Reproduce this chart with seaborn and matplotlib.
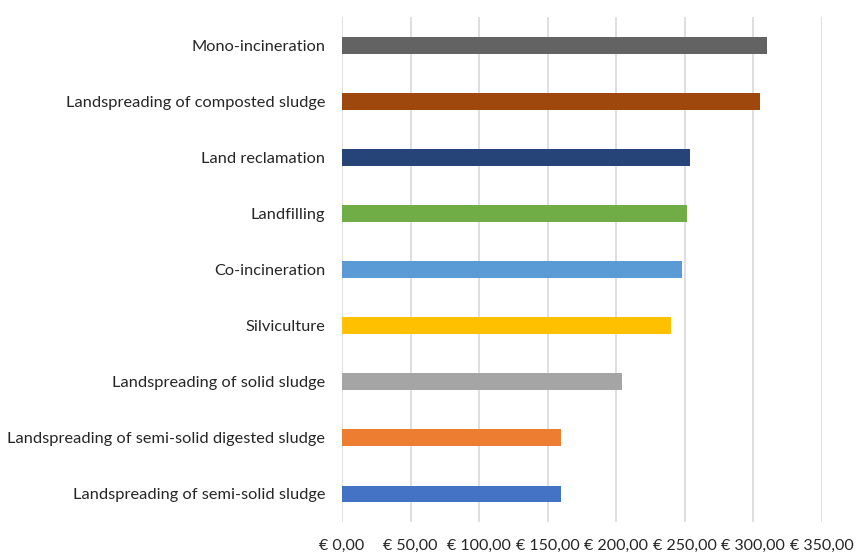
import matplotlib
matplotlib.use("Agg")
import matplotlib.pyplot as plt
import seaborn as sns
import pandas as pd
from matplotlib.ticker import FuncFormatter

categories = ['Mono-incineration', 'Landspreading of composted sludge', 'Land reclamation',
              'Landfilling', 'Co-incineration', 'Silviculture', 'Landspreading of solid sludge',
              'Landspreading of semi-solid digested sludge', 'Landspreading of semi-solid sludge']
costs = [310, 305, 254, 252, 248, 240, 204, 160, 160]
colors = ['#636363', '#9E480E', '#264478', '#70AD47', '#5B9BD5', '#FFC000', '#A5A5A5', '#ED7D31', '#4472C4']
xticks = [0, 50, 100, 150, 200, 250, 300, 350]

df = pd.DataFrame({'method': categories, 'cost': costs})

sns.set_style('white')
plt.rcParams['font.family'] = ['Lato', 'DejaVu Sans']

fig = plt.figure(figsize=(8.65, 5.55), dpi=100)
ax = fig.add_axes([0.3954, 0.0595, 0.5546, 0.9095])

sns.barplot(data=df, x='cost', y='method', hue='method', palette=colors, orient='h',
            width=0.3, legend=False, ax=ax, edgecolor='none', saturation=1)

ax.set_xlim(0, 350)
ax.set_xticks(xticks)
ax.xaxis.set_major_formatter(FuncFormatter(lambda v, p: '€ ' + f'{v:.2f}'.replace('.', ',')))
ax.grid(axis='x', color='#d9d9d9', linewidth=1.2)
ax.set_axisbelow(True)
for s in ax.spines.values():
    s.set_visible(False)
ax.set_xlabel('')
ax.set_ylabel('')
ax.tick_params(axis='both', length=0, labelcolor='#262626')
ax.tick_params(axis='y', pad=12, labelsize=11.8)
ax.tick_params(axis='x', pad=12, labelsize=11.5)

fig.savefig('out.png', dpi=100)
